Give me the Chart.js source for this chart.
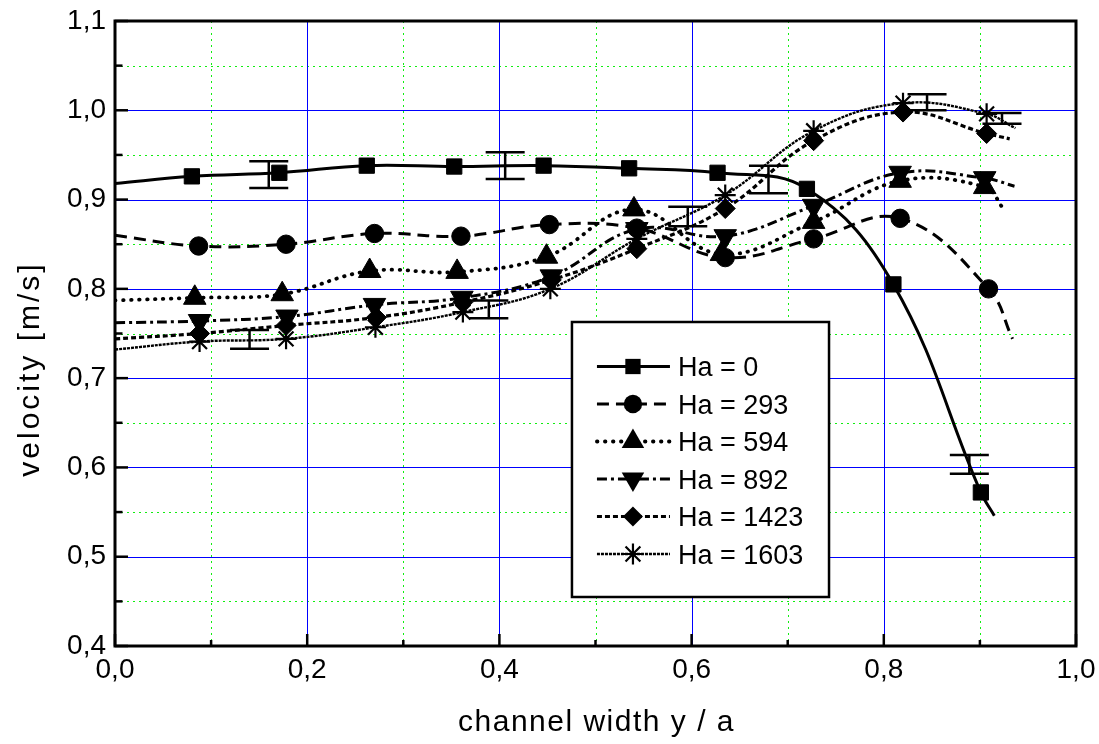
<!DOCTYPE html>
<html>
<head>
<meta charset="utf-8">
<script src="https://cdn.jsdelivr.net/npm/chart.js@4/dist/chart.umd.min.js"></script>
<style>
html,body{margin:0;padding:0;background:#fff;}
#wrap{width:1099px;height:744px;position:relative;}
canvas{display:block;}
</style>
</head>
<body>
<div id="wrap"><canvas id="c" width="1099" height="744"></canvas></div>
<script>
// ---------------- data ----------------
const seriesLabels = ['Ha = 0', 'Ha = 293', 'Ha = 594', 'Ha = 892', 'Ha = 1423', 'Ha = 1603'];

// first and last entries are the ends of the fitted curves (no marker)
const xHa0    = [0, 0.080, 0.171, 0.262, 0.353, 0.446, 0.535, 0.627, 0.720, 0.810, 0.901, 0.915];
const vHa0    = [0.918, 0.926, 0.930, 0.938, 0.937, 0.938, 0.935, 0.930, 0.912, 0.805, 0.572, 0.546];

const xHa293  = [0, 0.087, 0.178, 0.270, 0.360, 0.452, 0.543, 0.635, 0.727, 0.817, 0.909, 0.934];
const vHa293  = [0.860, 0.848, 0.850, 0.862, 0.859, 0.872, 0.868, 0.835, 0.856, 0.879, 0.800, 0.744];

const xHa594  = [0, 0.083, 0.174, 0.265, 0.356, 0.449, 0.540, 0.631, 0.727, 0.817, 0.905, 0.925];
const vHa594  = [0.787, 0.790, 0.794, 0.820, 0.819, 0.836, 0.889, 0.839, 0.875, 0.921, 0.914, 0.889];

const xHa892  = [0, 0.088, 0.179, 0.270, 0.361, 0.454, 0.543, 0.635, 0.727, 0.817, 0.905, 0.936];
const vHa892  = [0.762, 0.764, 0.769, 0.782, 0.790, 0.814, 0.867, 0.859, 0.893, 0.930, 0.924, 0.915];

const xHa1423 = [0, 0.088, 0.178, 0.272, 0.362, 0.454, 0.543, 0.635, 0.727, 0.820, 0.907, 0.931];
const vHa1423 = [0.744, 0.750, 0.759, 0.768, 0.785, 0.810, 0.845, 0.890, 0.966, 0.998, 0.974, 0.968];

const xHa1603 = [0, 0.088, 0.178, 0.271, 0.362, 0.453, 0.543, 0.635, 0.727, 0.820, 0.907, 0.937];
const vHa1603 = [0.732, 0.741, 0.744, 0.757, 0.774, 0.800, 0.856, 0.905, 0.977, 1.008, 0.996, 0.980];

// error bars
const errX    = [0.140, 0.160, 0.389, 0.406, 0.596, 0.680, 0.845, 0.889, 0.923];
const errLow  = [0.733, 0.913, 0.767, 0.923, 0.870, 0.907, 1.000, 0.593, 0.985];
const errHigh = [0.754, 0.943, 0.787, 0.953, 0.892, 0.938, 1.018, 0.614, 0.997];

// axes / grid
const xMajorGrid = [0.2, 0.4, 0.6, 0.8];
const xMinorGrid = [0.1, 0.3, 0.5, 0.7, 0.9];
const yMajorGrid = [0.5, 0.6, 0.7, 0.8, 0.9, 1.0];
const yMinorGrid = [0.45, 0.55, 0.65, 0.75, 0.85, 0.95, 1.05];
const xTitle = 'channel width y / a';
const yTitle = 'velocity [m/s]';

// ---------------- styling ----------------
const FONT = '"Liberation Sans", Arial, Helvetica, sans-serif';
const seriesX = [xHa0, xHa293, xHa594, xHa892, xHa1423, xHa1603];
const seriesV = [vHa0, vHa293, vHa594, vHa892, vHa1423, vHa1603];
const styles = [
  {pointStyle: 'rect',     r: 10.8, rot: 0,   dash: [],            width: 3,   cap: 'butt'},
  {pointStyle: 'circle',   r: 9.2,  rot: 0,   dash: [12, 7],       width: 3,   cap: 'butt'},
  {pointStyle: 'triangle', r: 13,   rot: 0,   dash: [0.5, 7.5],    width: 3.8, cap: 'round'},
  {pointStyle: 'triangle', r: 13,   rot: 180, dash: [10, 4, 3, 4], width: 3,   cap: 'butt'},
  {pointStyle: 'rectRot',  r: 10,   rot: 0,   dash: [5, 3],        width: 3.2, cap: 'butt'},
  {pointStyle: 'star',     r: 10.5, rot: 0,   dash: [3, 1],        width: 2.4, cap: 'butt'}
];

const datasets = seriesLabels.map((lab, k) => {
  const xs = seriesX[k], vs = seriesV[k], st = styles[k];
  const n = xs.length;
  return {
    label: lab,
    data: xs.map((x, i) => ({x: x, y: vs[i]})),
    borderColor: '#000',
    backgroundColor: '#000',
    borderWidth: st.width,
    borderDash: st.dash,
    borderCapStyle: st.cap,
    tension: 0.4,
    fill: false,
    pointStyle: st.pointStyle,
    pointRotation: st.rot,
    pointRadius: (c) => (c.dataIndex === 0 || c.dataIndex === n - 1) ? 0 : st.r,
    pointHoverRadius: (c) => (c.dataIndex === 0 || c.dataIndex === n - 1) ? 0 : st.r,
    pointBackgroundColor: '#000',
    pointBorderColor: '#000',
    pointBorderWidth: st.pointStyle === 'star' ? 2.2 : 1
  };
});

function drawMarker(ctx, st, x, y) {
  const r = st.r;
  ctx.save();
  ctx.fillStyle = '#000';
  ctx.strokeStyle = '#000';
  ctx.setLineDash([]);
  ctx.beginPath();
  if (st.pointStyle === 'rect') {
    const s = r * Math.SQRT1_2;
    ctx.rect(x - s, y - s, 2 * s, 2 * s); ctx.fill();
  } else if (st.pointStyle === 'circle') {
    ctx.arc(x, y, r, 0, Math.PI * 2); ctx.fill();
  } else if (st.pointStyle === 'triangle') {
    const d = st.rot ? -1 : 1;
    ctx.moveTo(x, y - d * r);
    ctx.lineTo(x + r * 0.866, y + d * r * 0.5);
    ctx.lineTo(x - r * 0.866, y + d * r * 0.5);
    ctx.closePath(); ctx.fill();
  } else if (st.pointStyle === 'rectRot') {
    ctx.moveTo(x - r, y); ctx.lineTo(x, y - r); ctx.lineTo(x + r, y); ctx.lineTo(x, y + r);
    ctx.closePath(); ctx.fill();
  } else if (st.pointStyle === 'star') {
    ctx.lineWidth = 2.2;
    for (let a = 0; a < 4; a++) {
      const ang = a * Math.PI / 4;
      ctx.moveTo(x + Math.cos(ang) * r, y + Math.sin(ang) * r);
      ctx.lineTo(x - Math.cos(ang) * r, y - Math.sin(ang) * r);
    }
    ctx.stroke();
  }
  ctx.restore();
}

function seg(ctx, x1, y1, x2, y2) { ctx.beginPath(); ctx.moveTo(x1, y1); ctx.lineTo(x2, y2); ctx.stroke(); }

const decor = {
  id: 'decor',
  beforeDatasetsDraw(chart) {
    const {ctx, chartArea: a, scales: {x, y}} = chart;
    ctx.save();
    ctx.lineWidth = 1;
    ctx.strokeStyle = '#11ee11';
    ctx.setLineDash([2, 4]);
    xMinorGrid.forEach(v => { const p = Math.round(x.getPixelForValue(v)) + 0.5; seg(ctx, p, a.top, p, a.bottom); });
    yMinorGrid.forEach(v => { const p = Math.round(y.getPixelForValue(v)) + 0.5; seg(ctx, a.left, p, a.right, p); });
    ctx.strokeStyle = '#0000ff';
    ctx.setLineDash([]);
    xMajorGrid.forEach(v => { const p = Math.round(x.getPixelForValue(v)) + 0.5; seg(ctx, p, a.top, p, a.bottom); });
    yMajorGrid.forEach(v => { const p = Math.round(y.getPixelForValue(v)) + 0.5; seg(ctx, a.left, p, a.right, p); });
    ctx.restore();
  },
  afterDatasetsDraw(chart) {
    const {ctx, chartArea: a, scales: {x, y}} = chart;
    ctx.save();
    // error bars
    ctx.strokeStyle = '#000';
    ctx.lineWidth = 2.5;
    ctx.setLineDash([]);
    errX.forEach((v, i) => {
      const px = x.getPixelForValue(v);
      const p1 = y.getPixelForValue(errLow[i]);
      const p2 = y.getPixelForValue(errHigh[i]);
      seg(ctx, px, p1, px, p2);
      seg(ctx, px - 19.5, p1, px + 19.5, p1);
      seg(ctx, px - 19.5, p2, px + 19.5, p2);
    });
    // inner ticks
    ctx.lineWidth = 2.5;
    [0.4, 0.5, 0.6, 0.7, 0.8, 0.9, 1.0, 1.1].forEach(v => { const p = y.getPixelForValue(v); seg(ctx, a.left, p, a.left + 13, p); });
    yMinorGrid.forEach(v => { const p = y.getPixelForValue(v); seg(ctx, a.left, p, a.left + 7.5, p); });
    [0, 0.2, 0.4, 0.6, 0.8, 1.0].forEach(v => { const p = x.getPixelForValue(v); seg(ctx, p, a.bottom, p, a.bottom - 12); });
    xMinorGrid.forEach(v => { const p = x.getPixelForValue(v); seg(ctx, p, a.bottom, p, a.bottom - 6); });
    // frame
    ctx.lineWidth = 3;
    ctx.strokeRect(a.left, a.top, a.right - a.left, a.bottom - a.top);

    // legend
    const W = a.right - a.left, H = a.bottom - a.top;
    const bl = a.left + 0.4755 * W, br = a.left + 0.743 * W;
    const bt = a.top + 0.4816 * H, bb = a.top + 0.9216 * H;
    ctx.fillStyle = '#fff';
    ctx.fillRect(bl, bt, br - bl, bb - bt);
    ctx.lineWidth = 2.5;
    ctx.strokeStyle = '#000';
    ctx.strokeRect(bl, bt, br - bl, bb - bt);
    ctx.font = '27px ' + FONT;
    ctx.fillStyle = '#000';
    ctx.textAlign = 'left';
    ctx.textBaseline = 'alphabetic';
    seriesLabels.forEach((lab, k) => {
      const st = styles[k];
      const ry = bt + 44.5 + k * 37.5;
      ctx.save();
      ctx.lineWidth = st.width;
      ctx.setLineDash(st.dash);
      ctx.lineCap = st.cap;
      seg(ctx, bl + 25, ry, bl + 98, ry);
      ctx.restore();
      drawMarker(ctx, st, bl + 61, ry);
      ctx.fillStyle = '#000';
      ctx.fillText(lab, bl + 106, ry + 9.8);
    });

    // axis titles
    ctx.fillStyle = '#000';
    ctx.font = '30px ' + FONT;
    try { ctx.letterSpacing = '1.5px'; } catch (e) {}
    ctx.textAlign = 'center';
    ctx.textBaseline = 'alphabetic';
    ctx.fillText(xTitle, (a.left + a.right) / 2 + 1, 731);
    try { ctx.letterSpacing = '3px'; } catch (e) {}
    ctx.translate(39, 370);
    ctx.rotate(-Math.PI / 2);
    ctx.fillText(yTitle, 1, 0);
    ctx.restore();
  }
};

const fmt = v => Number(v).toFixed(1).replace('.', ',');

new Chart(document.getElementById('c'), {
  type: 'line',
  data: {datasets: datasets},
  options: {
    responsive: false,
    animation: false,
    events: [],
    layout: {padding: {top: 21, right: 23, left: 0, bottom: 0}},
    plugins: {legend: {display: false}, tooltip: {enabled: false}},
    scales: {
      x: {
        type: 'linear', min: 0, max: 1,
        grid: {display: false, drawTicks: false},
        border: {display: false},
        ticks: {stepSize: 0.2, callback: fmt, color: '#000', font: {family: FONT, size: 28, lineHeight: 1}, padding: 10, maxRotation: 0, autoSkip: false},
        afterFit: s => { s.height = 98; s.paddingLeft = 0; s.paddingRight = 0; }
      },
      y: {
        type: 'linear', min: 0.4, max: 1.1,
        grid: {display: false, drawTicks: false},
        border: {display: false},
        ticks: {stepSize: 0.1, callback: fmt, color: '#000', font: {family: FONT, size: 28, lineHeight: 1}, padding: 9, autoSkip: false},
        afterFit: s => { s.width = 115; s.paddingTop = 0; s.paddingBottom = 0; }
      }
    }
  },
  plugins: [decor]
});
</script>
</body>
</html>
